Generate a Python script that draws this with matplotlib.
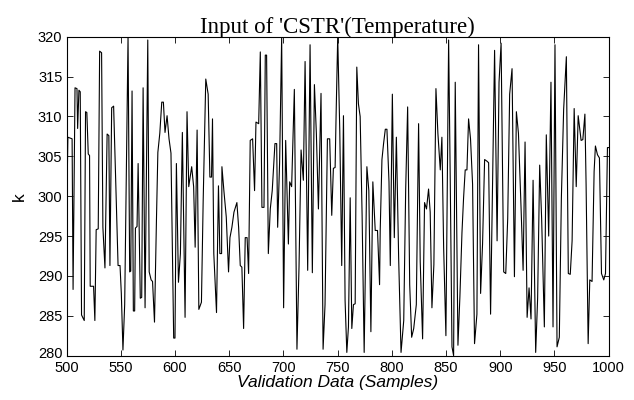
import matplotlib
matplotlib.use("Agg")
import matplotlib.pyplot as plt
import matplotlib.transforms as mtransforms

# breakpoints of the temperature trace (sample, kelvin)
samples = [
    500, 501.2, 505.1, 506.0, 507.8, 509.6, 510.2, 511.4, 512.6, 513.8, 514.5, 516.3,
    517.5, 518.7, 520.0, 521.2, 521.8, 524.9, 526.1, 527.3, 529.2, 530.5, 532.3, 533.5,
    535.4, 537.4, 539.0, 540.0, 541.6, 543.4, 546.3, 547.5, 549.3, 550.5, 552.0, 553.6,
    556.7, 558.2, 559.2, 560.4, 561.6, 562.8, 563.5, 565.0, 566.0, 568.0, 569.3, 570.6,
    572.4, 574.9, 576.2, 578.0, 579.3, 581.1, 582.9, 584.2, 586.0, 587.8, 589.3, 590.8,
    592.7, 594.5, 596.3, 598.8, 600.0, 601.3, 603.2, 605.0, 606.8, 609.3, 611.1, 612.7,
    615.4, 617.2, 618.6, 620.4, 622.0, 624.4, 626.0, 628.4, 630.6, 632.2, 633.7, 634.6,
    635.8, 638.3, 640.1, 641.4, 643.0, 643.3, 645.1, 647.3, 649.4, 650.7, 652.5, 654.4,
    657.1, 658.7, 660.2, 661.7, 663.3, 664.8, 666.5, 667.9, 669.4, 671.6, 673.4, 674.7,
    677.2, 678.7, 680.2, 682.1, 683.3, 684.5, 686.1, 687.9, 689.7, 692.2, 693.8, 694.7,
    696.5, 698.4, 700.2, 702.1, 704.6, 705.8, 707.6, 710.1, 712.5, 714.4, 716.3, 718.4,
    720.0, 722.4, 724.6, 726.7, 728.6, 730.4, 732.3, 734.7, 736.6, 738.4, 740.6, 742.7,
    744.6, 746.1, 747.7, 748.6, 750.1, 752.0, 753.8, 755.4, 756.9, 758.5, 760.0, 761.6,
    763.1, 764.6, 766.2, 767.7, 769.2, 770.8, 772.6, 774.5, 777.0, 778.8, 780.7, 782.5,
    784.7, 786.8, 788.7, 789.3, 790.9, 792.4, 794.0, 795.5, 797.4, 798.6, 800.5, 802.3,
    804.2, 806.3, 808.5, 811.0, 812.8, 814.6, 816.5, 818.3, 820.2, 822.6, 824.7, 826.2,
    828.4, 830.2, 832.0, 833.9, 835.4, 837.0, 838.8, 840.7, 842.5, 844.7, 846.2, 847.8,
    849.9, 852.4, 853.9, 855.5, 857.0, 858.5, 861.0, 862.8, 864.7, 866.2, 867.7, 869.3,
    870.8, 872.6, 874.5, 876.3, 878.5, 880.0, 881.9, 883.7, 885.6, 887.7, 889.3, 891.1,
    893.0, 894.8, 897.1, 898.9, 900.8, 903.2, 905.1, 906.9, 908.7, 910.9, 913.1, 914.9,
    916.8, 919.3, 921.1, 922.9, 924.8, 926.6, 928.4, 930.3, 932.7, 934.5, 936.4, 938.2,
    940.7, 942.5, 944.7, 946.8, 948.7, 950.5, 952.4, 954.5, 956.4, 958.5, 961.0, 962.8,
    964.6, 966.3, 968.2, 970.1, 971.9, 973.1, 974.6, 976.2, 978.1, 979.2, 981.1, 982.6,
    984.7, 986.6, 987.8, 989.7, 991.5, 993.4, 995.5, 997.1, 998.9, 1000,
]
temperature = [
    297.0, 307.4, 307.2, 288.3, 313.6, 313.5, 308.5, 313.3, 313.1, 285.1, 284.9, 284.4,
    310.6, 310.5, 305.3, 305.1, 288.7, 288.7, 284.4, 295.8, 295.9, 318.2, 318.0, 296.1,
    291.0, 307.8, 307.6, 291.3, 311.1, 311.3, 297.2, 291.3, 291.3, 287.8, 280.7, 286.4,
    320.0, 290.5, 290.6, 313.2, 285.6, 285.6, 296.0, 296.2, 304.1, 287.2, 287.3, 313.6,
    286.0, 319.6, 290.5, 289.5, 289.3, 284.2, 297.0, 305.5, 307.9, 311.8, 311.8, 308.0,
    310.1, 307.2, 305.4, 282.2, 282.2, 304.1, 289.2, 292.8, 308.0, 284.8, 310.6, 301.2,
    303.7, 301.2, 293.6, 308.3, 285.8, 286.7, 299.4, 314.7, 312.8, 302.4, 302.4, 309.7,
    292.8, 285.4, 301.3, 292.8, 292.8, 303.7, 300.7, 297.4, 290.5, 294.8, 296.1, 298.0,
    299.2, 296.1, 291.3, 291.1, 283.4, 294.8, 294.8, 290.3, 307.0, 307.2, 300.7, 309.3,
    309.1, 318.1, 298.6, 298.6, 317.7, 317.7, 292.8, 298.4, 300.7, 306.6, 306.6, 296.1,
    304.2, 320.0, 286.0, 307.0, 294.0, 301.8, 301.2, 313.4, 280.8, 291.1, 305.8, 302.0,
    316.9, 290.7, 319.0, 290.4, 314.0, 307.9, 298.4, 312.9, 280.8, 286.4, 307.2, 307.2,
    297.6, 303.5, 303.6, 310.1, 320.0, 308.2, 291.3, 310.1, 286.9, 280.4, 283.6, 299.8,
    283.4, 286.4, 286.5, 316.2, 311.6, 310.0, 297.6, 280.4, 303.7, 300.7, 283.0, 301.8,
    295.7, 295.7, 288.9, 295.7, 304.6, 306.6, 308.4, 308.4, 301.8, 291.3, 312.8, 294.8,
    307.4, 292.3, 280.4, 284.4, 300.9, 311.2, 288.9, 282.3, 283.4, 286.4, 309.1, 291.8,
    282.1, 299.2, 298.4, 300.9, 298.0, 286.0, 291.4, 313.5, 307.9, 303.3, 307.4, 293.6,
    282.5, 319.6, 302.0, 281.1, 280.0, 314.3, 281.3, 287.4, 295.4, 299.8, 303.3, 303.3,
    309.7, 307.2, 301.5, 281.5, 285.2, 319.0, 287.8, 294.0, 304.6, 304.4, 304.2, 285.2,
    302.2, 318.3, 294.4, 314.3, 319.2, 290.5, 290.3, 297.2, 312.8, 316.0, 289.9, 310.6,
    307.9, 298.2, 290.7, 306.8, 284.8, 288.5, 284.6, 302.0, 280.4, 287.2, 303.9, 297.2,
    283.6, 307.7, 295.0, 314.3, 283.6, 319.0, 281.1, 282.3, 299.8, 310.9, 317.5, 290.3,
    290.2, 294.4, 311.0, 301.2, 310.1, 308.7, 307.0, 307.1, 310.3, 301.5, 281.5, 289.5,
    289.3, 303.1, 306.3, 305.2, 304.8, 290.3, 289.5, 290.3, 306.1, 306.1,
]

x_ticks = [500, 550, 600, 650, 700, 750, 800, 850, 900, 950, 1000]
y_ticks = [280, 285, 290, 295, 300, 305, 310, 315, 320]

fig = plt.figure(figsize=(6.34, 4.0), dpi=100)
ax = fig.add_axes([0.105, 0.111, 0.855, 0.797])

ax.plot(samples, temperature, color="black", linewidth=0.8)

ax.set_xlim(500, 1000)
ax.set_ylim(280, 320)
ax.set_xticks(x_ticks)
ax.set_yticks(y_ticks)
ax.tick_params(direction="in", top=True, right=True, length=4.5, width=0.6,
               labelsize=10.5)
ax.tick_params(axis="x", pad=4)
ax.tick_params(axis="y", pad=3)
for lab in ax.get_xticklabels() + ax.get_yticklabels():
    lab.set_family("Liberation Sans")
for sp in ax.spines.values():
    sp.set_linewidth(0.8)

# the lowest y label sits a touch high in the reference, clear of the "500"
lowest = ax.get_yticklabels()[0]
lowest.set_transform(lowest.get_transform() +
                     mtransforms.ScaledTranslation(0, 2 / 72, fig.dpi_scale_trans))

ax.set_title("Input of 'CSTR'(Temperature)", family="Liberation Serif",
             fontsize=16.5, pad=3)
ax.set_xlabel("Validation Data (Samples)", family="Liberation Sans",
              style="italic", fontsize=12.5, labelpad=0)
ax.set_ylabel("k", family="Liberation Sans", fontsize=12.5, labelpad=8)

fig.savefig("out.png", dpi=100)
